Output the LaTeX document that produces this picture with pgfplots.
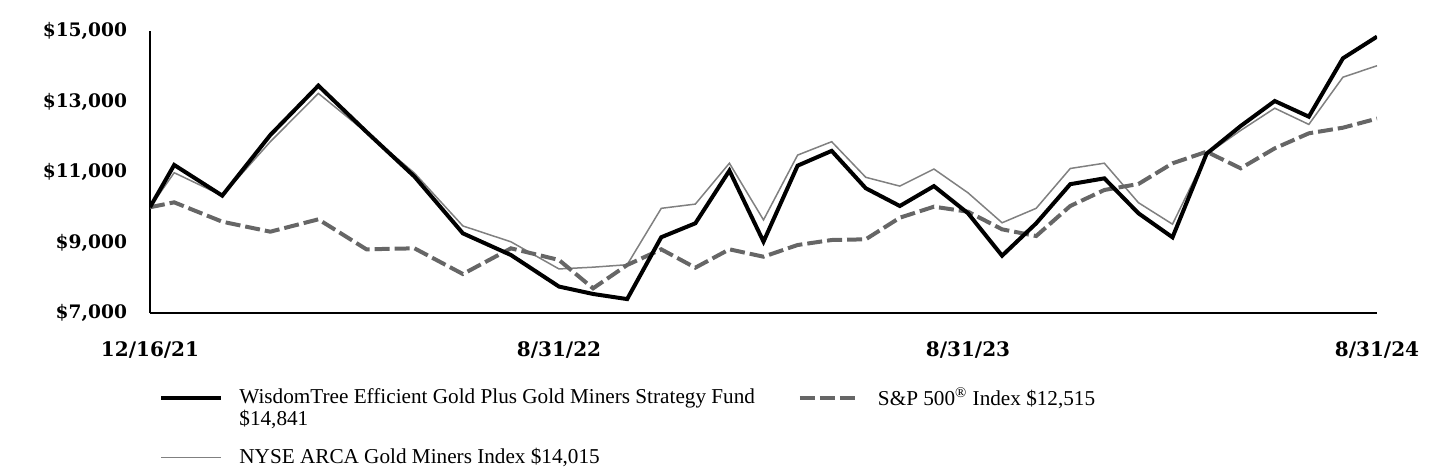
\documentclass[border=0pt]{standalone}
\usepackage{fontspec}
\setmainfont{Liberation Serif}
\newfontfamily\tickfont{DejaVu Serif}
\usepackage{pgfplots}
\pgfplotsset{compat=1.18}

\definecolor{minersgray}{RGB}{128,128,128}
\definecolor{spgray}{RGB}{102,102,102}

% x: first stretch (12/16/21 - 8/31/22, 8.5 months) drawn as wide as a full year
\pgfplotstableread{
x      fund   miners  sp
0      10000  10000   10000
0.71   11200  10980   10140
2.12   10330  10330   9590
3.53   12050  11860   9307
4.94   13450  13230   9658
6.35   12140  12120   8807
7.76   10870  10970   8835
9.18   9260   9470    8106
10.59  8645   9020    8835
12     7750   8250    8504
13     7540   8300    7700
14     7395   8370    8362
15     9150   9970    8807
16     9545   10090   8286
17     11040  11250   8807
18     9025   9640    8597
19     11180  11480   8929
20     11600  11860   9071
21     10540  10850   9091
22     10036  10600   9704
23     10600  11085   10016
24     9830   10410   9874
25     8626   9560    9374
26     9545   9970    9184
27     10655  11100   10036
28     10820  11250   10490
29     9830   10130   10660
30     9147   9520    11247
31     11520  11500   11576
32     12305  12180   11105
33     13014  12810   11672
34     12570  12350   12098
35     14226  13690   12257
36     14841  14015   12515
}\growth

\begin{document}
\begin{tikzpicture}
\useasboundingbox (-75pt,-77.5pt) rectangle (645pt,156.5pt);
\begin{axis}[
    scale only axis,
    width=613.5pt, height=141pt,
    xmin=0, xmax=36,
    ymin=7000, ymax=15000,
    scaled y ticks=false,
    axis x line=bottom, axis y line=left,
    axis line style={-, line width=1pt, black},
    major tick length=0pt,
    xtick={0,12,24,36},
    xticklabels={12/16/21, 8/31/22, 8/31/23, 8/31/24},
    ytick={7000,9000,11000,13000,15000},
    yticklabels={{\$7,000},{\$9,000},{\$11,000},{\$13,000},{\$15,000}},
    yticklabel style={font=\tickfont\bfseries\fontsize{9.3}{11}\selectfont, xshift=-8pt},
    xticklabel style={font=\tickfont\bfseries\fontsize{10}{12}\selectfont, yshift=-11pt},
    legend columns=2,
    legend cell align=left,
    legend style={draw=none, at={(0,0)}, anchor=north west,
        xshift=1.5pt, yshift=-33pt, font=\fontsize{10.6}{10.5}\selectfont,
        row sep=16pt,
        /tikz/every odd column/.append style={column sep=6pt},
        /tikz/every even column/.append style={column sep=19.5pt}},
    legend image code/.code={\draw[#1] (0pt,0pt) -- (30pt,0pt);},
]
\addplot[minersgray, line width=0.75pt, forget plot] table[x=x, y=miners] {\growth};
\addplot[spgray, line width=2pt, dash pattern=on 7.5pt off 2.5pt, forget plot] table[x=x, y=sp] {\growth};
\addplot[black, line width=2pt, forget plot] table[x=x, y=fund] {\growth};

\addlegendimage{black, line width=2pt}
\addlegendentry{\begin{tabular}[t]{@{}l@{}}WisdomTree Efficient Gold Plus Gold Miners Strategy Fund\\\$14,841\end{tabular}}
\addlegendimage{spgray, line width=2pt, dash pattern=on 7.5pt off 2.5pt}
\addlegendentry{S\&P 500\textsuperscript{\textregistered} Index \$12,515}
\addlegendimage{minersgray, line width=0.75pt}
\addlegendentry{NYSE ARCA Gold Miners Index \$14,015}
\end{axis}
\end{tikzpicture}
\end{document}
